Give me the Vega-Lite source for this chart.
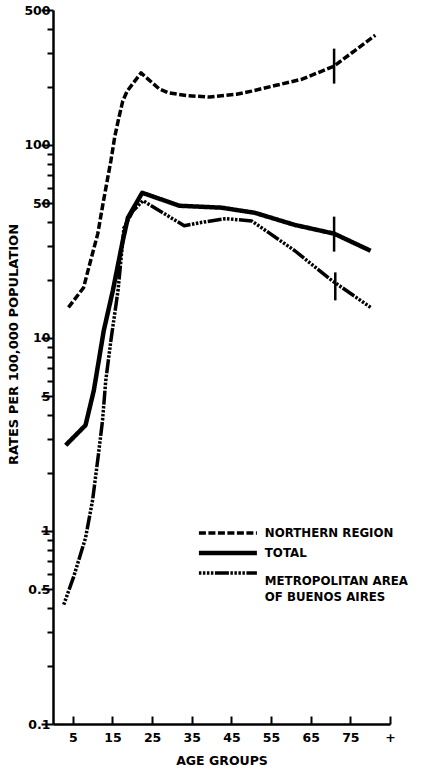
{
  "$schema": "https://vega.github.io/schema/vega-lite/v6.json",
  "width": 337,
  "height": 714,
  "autosize": {"type": "none"},
  "padding": {"left": 53, "top": 10, "right": 32, "bottom": 50},
  "background": "white",
  "config": {"view": {"stroke": null}, "font": "DejaVu Sans"},
  "datasets": {
    "lines": [
      {"series": "NORTHERN REGION", "age": 3.9, "rate": 14.4},
      {"series": "NORTHERN REGION", "age": 7.7, "rate": 18.2},
      {"series": "NORTHERN REGION", "age": 9.5, "rate": 25.2},
      {"series": "NORTHERN REGION", "age": 11.3, "rate": 34.7},
      {"series": "NORTHERN REGION", "age": 12.6, "rate": 49.5},
      {"series": "NORTHERN REGION", "age": 13.8, "rate": 67.5},
      {"series": "NORTHERN REGION", "age": 14.6, "rate": 82.7},
      {"series": "NORTHERN REGION", "age": 15.6, "rate": 111},
      {"series": "NORTHERN REGION", "age": 16.6, "rate": 138},
      {"series": "NORTHERN REGION", "age": 17.6, "rate": 169},
      {"series": "NORTHERN REGION", "age": 18.7, "rate": 190},
      {"series": "NORTHERN REGION", "age": 22.2, "rate": 236},
      {"series": "NORTHERN REGION", "age": 26.8, "rate": 195},
      {"series": "NORTHERN REGION", "age": 29.1, "rate": 186},
      {"series": "NORTHERN REGION", "age": 34.0, "rate": 180},
      {"series": "NORTHERN REGION", "age": 39.5, "rate": 177},
      {"series": "NORTHERN REGION", "age": 46.3, "rate": 183},
      {"series": "NORTHERN REGION", "age": 50.1, "rate": 190},
      {"series": "NORTHERN REGION", "age": 56.0, "rate": 203},
      {"series": "NORTHERN REGION", "age": 62.8, "rate": 219},
      {"series": "NORTHERN REGION", "age": 70.9, "rate": 256},
      {"series": "NORTHERN REGION", "age": 81.3, "rate": 370},
      {"series": "TOTAL", "age": 3.2, "rate": 2.78},
      {"series": "TOTAL", "age": 8.2, "rate": 3.53},
      {"series": "TOTAL", "age": 10.3, "rate": 5.35},
      {"series": "TOTAL", "age": 12.8, "rate": 10.9},
      {"series": "TOTAL", "age": 15.1, "rate": 17.6},
      {"series": "TOTAL", "age": 17.6, "rate": 31.9},
      {"series": "TOTAL", "age": 18.9, "rate": 42},
      {"series": "TOTAL", "age": 22.5, "rate": 56.5},
      {"series": "TOTAL", "age": 31.9, "rate": 48.4},
      {"series": "TOTAL", "age": 42.5, "rate": 47.3},
      {"series": "TOTAL", "age": 50.9, "rate": 44.5},
      {"series": "TOTAL", "age": 61.0, "rate": 38.5},
      {"series": "TOTAL", "age": 70.9, "rate": 34.7},
      {"series": "TOTAL", "age": 80.1, "rate": 28.3},
      {"series": "METROPOLITAN AREA OF BUENOS AIRES", "age": 2.7, "rate": 0.415},
      {"series": "METROPOLITAN AREA OF BUENOS AIRES", "age": 5.2, "rate": 0.578},
      {"series": "METROPOLITAN AREA OF BUENOS AIRES", "age": 8.2, "rate": 0.92},
      {"series": "METROPOLITAN AREA OF BUENOS AIRES", "age": 10.0, "rate": 1.45},
      {"series": "METROPOLITAN AREA OF BUENOS AIRES", "age": 11.5, "rate": 2.53},
      {"series": "METROPOLITAN AREA OF BUENOS AIRES", "age": 12.5, "rate": 3.75},
      {"series": "METROPOLITAN AREA OF BUENOS AIRES", "age": 13.3, "rate": 6.0},
      {"series": "METROPOLITAN AREA OF BUENOS AIRES", "age": 14.6, "rate": 9.7},
      {"series": "METROPOLITAN AREA OF BUENOS AIRES", "age": 16.4, "rate": 17.6},
      {"series": "METROPOLITAN AREA OF BUENOS AIRES", "age": 17.9, "rate": 37.2},
      {"series": "METROPOLITAN AREA OF BUENOS AIRES", "age": 20.2, "rate": 45.6},
      {"series": "METROPOLITAN AREA OF BUENOS AIRES", "age": 22.7, "rate": 51.4},
      {"series": "METROPOLITAN AREA OF BUENOS AIRES", "age": 33.1, "rate": 38.1},
      {"series": "METROPOLITAN AREA OF BUENOS AIRES", "age": 36.9, "rate": 39.5},
      {"series": "METROPOLITAN AREA OF BUENOS AIRES", "age": 43.5, "rate": 41.5},
      {"series": "METROPOLITAN AREA OF BUENOS AIRES", "age": 50.1, "rate": 40.4},
      {"series": "METROPOLITAN AREA OF BUENOS AIRES", "age": 54.5, "rate": 35.0},
      {"series": "METROPOLITAN AREA OF BUENOS AIRES", "age": 61.0, "rate": 28.3},
      {"series": "METROPOLITAN AREA OF BUENOS AIRES", "age": 70.4, "rate": 19.8},
      {"series": "METROPOLITAN AREA OF BUENOS AIRES", "age": 80.1, "rate": 14.4}
    ],
    "markers": [
      {"series": "NORTHERN REGION", "age": 70.9, "rate": 256},
      {"series": "TOTAL", "age": 70.9, "rate": 34.5},
      {"series": "METROPOLITAN AREA OF BUENOS AIRES", "age": 71.2, "rate": 18.5}
    ]
  },
  "layer": [
    {
      "data": {"name": "lines"},
      "mark": {"type": "line", "color": "black", "strokeCap": "butt", "strokeJoin": "round"},
      "encoding": {
        "x": {
          "field": "age", "type": "quantitative",
          "scale": {"domain": [0, 85], "nice": false, "zero": false},
          "axis": {
            "values": [5, 10, 15, 20, 25, 30, 35, 40, 45, 50, 55, 60, 65, 70, 75, 80, 85],
            "labelExpr": "datum.value == 85 ? '+' : (datum.value % 10 == 5 ? datum.label : '')",
            "tickSize": -8, "tickWidth": 2, "tickColor": "black",
            "domainColor": "black", "domainWidth": 2.5,
            "labelPadding": 15, "labelColor": "black", "labelFont": "DejaVu Sans",
            "labelFontWeight": "bold", "labelFontSize": 12.5, "labelFlush": false, "labelOverlap": false,
            "grid": false,
            "title": "AGE GROUPS", "titleFont": "DejaVu Sans", "titleFontSize": 12.5,
            "titleFontWeight": "bold", "titleColor": "black", "titleY": 36, "titleBaseline": "middle"
          }
        },
        "y": {
          "field": "rate", "type": "quantitative",
          "scale": {"type": "log", "domain": [0.1, 500], "nice": false},
          "axis": {
            "values": [0.1, 0.2, 0.3, 0.4, 0.5, 0.6, 0.7, 0.8, 0.9, 1, 2, 3, 4, 5, 6, 7, 8, 9, 10, 20, 30, 40, 50, 60, 70, 80, 90, 100, 200, 300, 400, 500],
            "format": "~g",
            "labelExpr": "indexof([0.1, 0.5, 1, 5, 10, 50, 100, 500], datum.value) >= 0 ? datum.label : ''",
            "tickSize": {"condition": {"test": "indexof([0.1, 0.5, 1, 5, 10, 50, 100, 500], datum.value) >= 0", "value": 12}, "value": 6},
            "tickWidth": 2, "tickColor": "black",
            "domainColor": "black", "domainWidth": 2.5,
            "labelPadding": -9, "labelColor": "black", "labelFont": "DejaVu Sans",
            "labelFontWeight": "bold", "labelFontSize": 12.5, "labelFlush": false, "labelOverlap": false,
            "grid": false,
            "title": "RATES PER 100,000 POPULATION", "titleFont": "DejaVu Sans", "titleFontSize": 13,
            "titleFontWeight": "bold", "titleColor": "black",
            "titleX": -40, "titleY": 334, "titleAngle": -90, "titleBaseline": "middle", "titleAlign": "center"
          }
        },
        "strokeDash": {
          "field": "series", "type": "nominal",
          "scale": {
            "domain": ["NORTHERN REGION", "TOTAL", "METROPOLITAN AREA OF BUENOS AIRES"],
            "range": [[7, 2.5], [1, 0], [2.5, 1.5, 2.5, 1.5, 2.5, 1.5, 2.5, 1.5, 14, 1.5]]
          },
          "legend": {
            "orient": "none", "legendX": 169, "legendY": 517, "padding": 0,
            "title": null, "symbolType": "stroke", "symbolSize": 3364,
            "symbolStrokeWidth": 3.5, "symbolStrokeColor": "black",
            "rowPadding": 3, "labelOffset": 31, "labelLimit": 0,
            "labelFont": "DejaVu Sans", "labelFontSize": 11.8, "labelFontWeight": "bold", "labelColor": "black",
            "labelExpr": "datum.value == 'METROPOLITAN AREA OF BUENOS AIRES' ? ['METROPOLITAN AREA', 'OF BUENOS AIRES'] : datum.label",
            "encode": {
              "labels": {"update": {"lineHeight": {"value": 16}, "dy": {"signal": "datum.value == 'METROPOLITAN AREA OF BUENOS AIRES' ? 8 : 0"}}},
              "symbols": {"update": {"strokeWidth": {"signal": "datum.value == 'TOTAL' ? 4.5 : 3.5"}}}
            }
          }
        },
        "strokeWidth": {"condition": {"test": "datum.series === 'TOTAL'", "value": 4.5}, "value": 3.5}
      }
    },
    {
      "data": {"name": "markers"},
      "mark": {"type": "tick", "orient": "vertical", "color": "black", "thickness": 2.5, "opacity": 1},
      "encoding": {
        "x": {"field": "age", "type": "quantitative"},
        "y": {"field": "rate", "type": "quantitative"},
        "size": {"condition": {"test": "datum.series === 'METROPOLITAN AREA OF BUENOS AIRES'", "value": 28}, "value": 35}
      }
    }
  ]
}
